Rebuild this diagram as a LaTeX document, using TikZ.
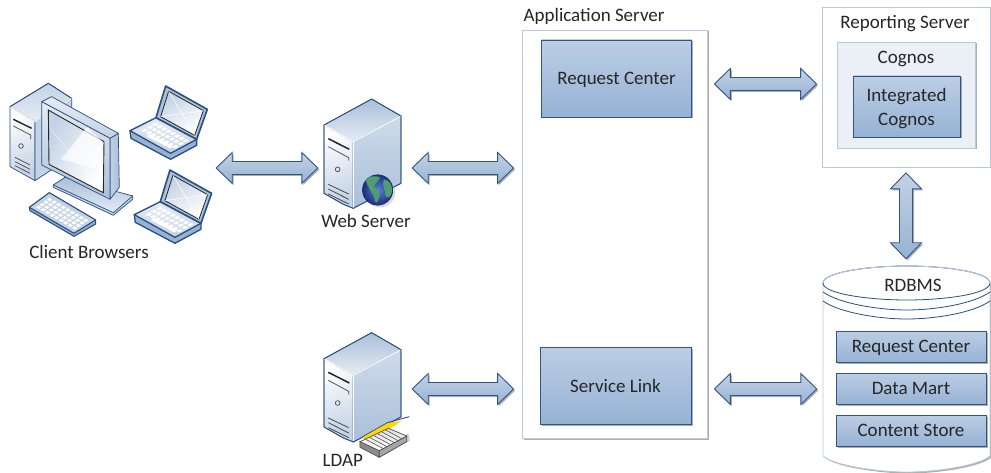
\documentclass[tikz,border=0pt]{standalone}
\usepackage{fontspec}
\setmainfont{Carlito}
\usetikzlibrary{calc,shadows,positioning}
\definecolor{ink}{HTML}{262626}
\definecolor{navy}{HTML}{2A4F80}
\definecolor{edge}{HTML}{2F5587}
\definecolor{blueA}{HTML}{BCCEE4}
\definecolor{blueB}{HTML}{96B2D4}
\definecolor{paleA}{HTML}{E6ECF4}
\definecolor{paleB}{HTML}{C3D2E5}
\definecolor{paleC}{HTML}{A9BFDA}
\definecolor{frameC}{HTML}{BBC8DC}
\definecolor{landC}{HTML}{4F9E70}
\definecolor{seaA}{HTML}{5F7FD0}
\definecolor{seaB}{HTML}{1C2C80}
\tikzset{
  softshadow/.style={drop shadow={shadow xshift=1.5pt,shadow yshift=-1.5pt,opacity=.45,fill=black!70}},
  blockbox/.style={rectangle,draw=edge,line width=.9pt,top color=blueA,bottom color=blueB,inner sep=0pt,softshadow,align=center,text=ink,text depth=0pt},
  frame/.style={rectangle,draw=frameC,line width=.8pt,fill=white,inner sep=0pt,softshadow},
  label/.style={text=ink,inner sep=0pt,align=center},
  iconbox/.style={rectangle,inner sep=0pt},
  arrowbody/.style={draw=edge,line width=.9pt,top color=paleB,bottom color=blueB,softshadow,line join=miter},
  iconline/.style={draw=navy,line width=.7pt,line join=round},
  detail/.style={draw=ink!85,line width=.7pt},
}
% block arrow: start, end, gap at start, gap at end
\newcommand{\blockarrow}[4]{%
  \coordinate (ba) at ($#1!#3!#2$);
  \coordinate (bb) at ($#2!#4!#1$);
  \coordinate (bp) at ($(ba)!16pt!(bb)$);
  \coordinate (bq) at ($(bb)!16pt!(ba)$);
  \path[arrowbody] (ba)
    -- ($(bp)!15.5pt!90:(bb)$) -- ($(bp)!6.5pt!90:(bb)$)
    -- ($(bq)!6.5pt!-90:(ba)$) -- ($(bq)!15.5pt!-90:(ba)$)
    -- (bb)
    -- ($(bq)!15.5pt!90:(ba)$) -- ($(bq)!6.5pt!90:(ba)$)
    -- ($(bp)!6.5pt!-90:(bb)$) -- ($(bp)!15.5pt!-90:(bb)$) -- cycle;
}
% white keys on a parallelogram: ox oy ux uy vx vy nu nv
\newcommand{\keygrid}[8]{%
  \pgfmathsetmacro\kax{.68*(#3)/#7}\pgfmathsetmacro\kay{.68*(#4)/#7}%
  \pgfmathsetmacro\kbx{.68*(#5)/#8}\pgfmathsetmacro\kby{.68*(#6)/#8}%
  \foreach \i in {1,...,#7}{\foreach \j in {1,...,#8}{%
    \pgfmathsetmacro\kpx{#1+(\i-.85)/#7*(#3)+(\j-.85)/#8*(#5)}%
    \pgfmathsetmacro\kpy{#2+(\i-.85)/#7*(#4)+(\j-.85)/#8*(#6)}%
    \fill[white] (\kpx,\kpy) -- ++(\kax,\kay) -- ++(\kbx,\kby) -- ++(-\kax,-\kay) -- cycle;
  }}%
}
\newcommand{\serverbody}{%
  \path[iconline,top color=white,bottom color=paleB,shading angle=20] (72,105) -- (160,155) -- (160,355) -- (130,343) -- (72,310) -- cycle;
  \path[iconline,top color=paleC,bottom color=paleA] (72,105) -- (215,27) -- (303,78) -- (160,155) -- cycle;
  \path[iconline,top color=paleB!80!white,bottom color=paleC] (160,155) -- (303,78) -- (303,280) -- (160,355) -- cycle;
  \draw[white,line width=1.2pt] (72,105) -- (160,155) -- (303,78);
  \draw[white,line width=1pt] (160,155) -- (160,353);
  \draw[gray!40,line width=.4pt] (195,143) -- (255,265);
  \draw[navy,line width=.8pt] (72,105) -- (215,27) -- (303,78) -- (303,280) -- (160,355) -- (130,343) -- (72,310) -- cycle;
  \draw[ink,line width=1.5pt] (85,146) -- (148,178);
  \draw[detail] (85,170) -- (146,203) -- (146,212);
  \draw[detail] (113,238) circle (7);
  \draw[detail,line width=.8pt] (85,283) -- (146,312) (85,297) -- (146,328) (85,312) -- (146,342);
}
\newcommand{\laptop}{%
  \path[iconline,line width=1.3pt,fill=blueB] (390,182) -- (393,205) -- (512,268) -- (590,226) -- (590,208) -- cycle;
  \path[iconline,line width=1.3pt,top color=paleA,bottom color=paleB] (390,182) -- (468,143) -- (590,208) -- (512,250) -- cycle;
  \path[iconline,line width=1.6pt,fill=paleC] (468,143) -- (497,48) -- (622,118) -- (590,208) -- cycle;
  \path[draw=ink,line width=.8pt,top color=paleB,bottom color=white,shading angle=30] (482,140) -- (506,64) -- (610,122) -- (584,196) -- cycle;
  \draw[white,line width=.5pt] (482,140) -- (610,122) (506,64) -- (584,196);
  \keygrid{420}{182}{105}{56}{48}{-27}{8}{3}
  \fill[white] (440,198) -- (510,235) -- (520,229) -- (450,192) -- cycle;
}
\begin{document}
\begin{tikzpicture}[x=1pt,y=-1pt,font=\fontsize{19}{24}\selectfont]
\useasboundingbox (0,0) rectangle (991,473);
\fill[white] (0,0) rectangle (991,473);

% hidden boxes that stand for the icons
\node[iconbox,minimum width=198pt,minimum height=150pt] (client) at (109,168) {};
\node[iconbox,minimum width=78pt,minimum height=138pt] (web) at (363,168) {};
\node[iconbox,minimum width=78pt,minimum height=120pt] (ldap) at (363,389) {};

% Application server
\node[frame,minimum width=185pt,minimum height=408pt] (app) at (614.5,234) {};
\node[label,anchor=base west] (applabel) at (523.5,22) {Application Server};
\node[blockbox,minimum width=150pt,minimum height=77pt] (rc) at (616.5,78.5) {Request Center};
\node[blockbox,minimum width=151pt,minimum height=77pt] (sl) at (615.5,385.5) {Service Link};

% Reporting server
\node[frame,minimum width=168pt,minimum height=160pt] (report) at (906,87) {};
\node[label] (reportlabel) at (905,24) {Reporting Server};
\node[rectangle,draw=frameC,line width=.8pt,fill=paleA!80!white,inner sep=0pt,softshadow,minimum width=138pt,minimum height=106pt] (cognos) at (906,95) {};
\node[label] (cognoslabel) at (906,59) {Cognos};
\node[blockbox,minimum width=107pt,minimum height=61pt] (integrated) at (906.5,106.5) {Integrated\\Cognos};

% Database
\path[draw=frameC,line width=.8pt,fill=white,softshadow] (823,283) -- (823,456) .. controls (835,466) and (880,472) .. (906.5,472) .. controls (935,472) and (978,466) .. (990,456) -- (990,283) -- cycle;
\node[rectangle,inner sep=0pt,minimum width=167pt,minimum height=206pt] (db) at (906.5,369) {};
\draw[navy,line width=.8pt] (823,292) .. controls (840,304) and (880,310) .. (906.5,310) .. controls (935,310) and (973,304) .. (990,292);
\draw[navy,line width=.8pt] (823,301) .. controls (840,313) and (880,319) .. (906.5,319) .. controls (935,319) and (973,313) .. (990,301);
\path[draw=navy,line width=.8pt,fill=white] (823,283) .. controls (823,272) and (870,266) .. (906.5,266) .. controls (945,266) and (990,272) .. (990,283) .. controls (990,294) and (945,300) .. (906.5,300) .. controls (870,300) and (823,294) .. (823,283) -- cycle;
\draw[frameC,line width=.9pt] (823,283) .. controls (823,272) and (870,266) .. (906.5,266) .. controls (945,266) and (990,272) .. (990,283);
\node[label] (dblabel) at (913,285.5) {RDBMS};
\node[blockbox,minimum width=150pt,minimum height=31pt] (dbrc) at (911,346.5) {Request Center};
\node[blockbox,minimum width=150pt,minimum height=31pt] (dbdm) at (911,388.5) {Data Mart};
\node[blockbox,minimum width=150pt,minimum height=31pt] (dbcs) at (911,430.5) {Content Store};

% Client browsers icon
\begin{scope}[shift={(0,70)},x=.3333pt,y=-.3333pt]
  \path[iconline,top color=paleB,bottom color=paleA] (30,110) -- (145,40) -- (215,85) -- (105,155) -- cycle;
  \path[iconline,top color=white,bottom color=paleB,shading angle=20] (30,110) -- (105,155) -- (105,332) -- (30,290) -- cycle;
  \path[iconline,fill=paleB] (105,155) -- (215,85) -- (215,260) -- (105,332) -- cycle;
  \draw[white,line width=1pt] (30,110) -- (105,155) -- (215,85);
  \draw[navy,line width=.8pt] (30,110) -- (145,40) -- (215,85);
  \draw[ink,line width=1.4pt] (40,148) -- (95,175);
  \draw[detail] (40,168) -- (92,195) -- (92,208);
  \draw[detail] (63,228) circle (7);
  \draw[detail] (45,262) -- (90,285) (45,275) -- (90,298) (45,287) -- (90,310);
  % stand
  \path[iconline,fill=paleB] (160,345) -- (160,352) -- (340,436) -- (398,388) -- (398,378) -- cycle;
  \path[iconline,top color=paleC,bottom color=paleA] (160,345) -- (195,322) -- (398,378) -- (340,428) -- cycle;
  % monitor
  \path[iconline,left color=paleB,right color=paleC] (330,205) -- (355,190) -- (358,352) -- (330,388) -- cycle;
  \path[iconline,top color=paleA,bottom color=paleB] (125,95) -- (155,80) -- (355,190) -- (330,205) -- cycle;
  \path[iconline,top color=paleA,bottom color=paleC] (125,95) -- (330,205) -- (330,388) -- (125,285) -- cycle;
  \path[draw=ink,line width=.9pt,left color=paleB,right color=white,shading angle=60] (145,120) -- (312,215) -- (310,368) -- (147,283) -- cycle;
  \fill[white,opacity=.75] (185,268) -- (262,172) -- (305,212) -- (305,300) -- cycle;
  \draw[white,opacity=.6,line width=.5pt] (150,175) -- (305,360) (180,270) -- (262,172);
  % keyboard
  \path[iconline,line width=1.1pt,fill=blueB] (88,412) -- (90,422) -- (222,499) -- (287,462) -- (287,450) -- cycle;
  \path[iconline,line width=1.1pt,fill=paleB] (88,412) -- (148,368) -- (287,450) -- (222,490) -- cycle;
  \keygrid{104}{412}{122}{70}{44}{-31}{9}{4}
\end{scope}
\begin{scope}[shift={(0,70)},x=.3333pt,y=-.3333pt]
  \laptop
\end{scope}
\begin{scope}[shift={(4.3,154)},x=.3333pt,y=-.3333pt]
  \laptop
\end{scope}
\node[label] (clientlabel) at (89,251.5) {Client Browsers};

% Web server icon
\begin{scope}[shift={(300,90)},x=.3333pt,y=-.3333pt]
  \serverbody
  \fill[black!30,opacity=.5] (240,306) circle (46);
  \fill[inner color=seaA,outer color=seaB] (233,300) circle (46);
  \begin{scope}
    \clip (233,300) circle (46);
    \fill[landC] (196,268) .. controls (208,258) and (225,256) .. (240,262) .. controls (236,275) and (222,280) .. (222,292) .. controls (236,296) and (244,310) .. (236,325) .. controls (232,340) and (226,342) .. (224,328) .. controls (222,312) and (206,300) .. (196,268) -- cycle;
    \fill[landC] (252,268) .. controls (268,270) and (278,285) .. (276,305) .. controls (272,322) and (262,330) .. (256,316) .. controls (258,300) and (244,290) .. (252,268) -- cycle;
  \end{scope}
\end{scope}
\node[label] (weblabel) at (366,221) {Web Server};

% LDAP server icon
\begin{scope}[shift={(300,323.67)},x=.3333pt,y=-.3333pt]
  \serverbody
\end{scope}
\begin{scope}[shift={(300,320)},x=.3333pt,y=-.3333pt]
  \fill[black!30,opacity=.6] (245,410) -- (330,362) -- (325,340) -- (245,395) -- cycle;
  \fill[yellow!75!orange] (188,350) -- (262,308) -- (305,303) -- (240,345) -- (200,365) -- cycle;
  \draw[navy,line width=.9pt] (262,308) -- (328,290);
  \draw[navy,line width=.7pt] (188,350) -- (262,308);
  \path[draw=ink!80,line width=.7pt,fill=black!45] (180,365) -- (180,382) -- (238,412) -- (238,392) -- cycle;
  \path[draw=ink!80,line width=.7pt,fill=black!35] (238,392) -- (320,348) -- (320,365) -- (238,412) -- cycle;
  \path[draw=ink!80,line width=.7pt,top color=black!12,bottom color=white] (180,365) -- (265,325) -- (320,348) -- (238,392) -- cycle;
  \foreach \t in {0,1,2,3,4,5}{\draw[ink!80,line width=.6pt] ({197+\t*12},{358-\t*5.6}) -- ({252+\t*11},{387-\t*6});}
\end{scope}
\node[label,anchor=base west] (ldaplabel) at (322.5,466) {LDAP};

% Block arrows
\coordinate (rowA) at (0,84);
\coordinate (rowC) at (0,389);
\blockarrow{(client.east)}{(web.west)}{8pt}{6pt}
\blockarrow{(web.east)}{(web.east -| app.west)}{10pt}{8pt}
\blockarrow{(ldap.east)}{(ldap.east -| app.west)}{10pt}{8pt}
\blockarrow{(app.east |- rowA)}{(report.west |- rowA)}{7pt}{5pt}
\blockarrow{(app.east |- rowC)}{(db.west |- rowC)}{7pt}{6pt}
\blockarrow{(report.south)}{(report.south |- db.north)}{5.5pt}{7pt}
\end{tikzpicture}
\end{document}
